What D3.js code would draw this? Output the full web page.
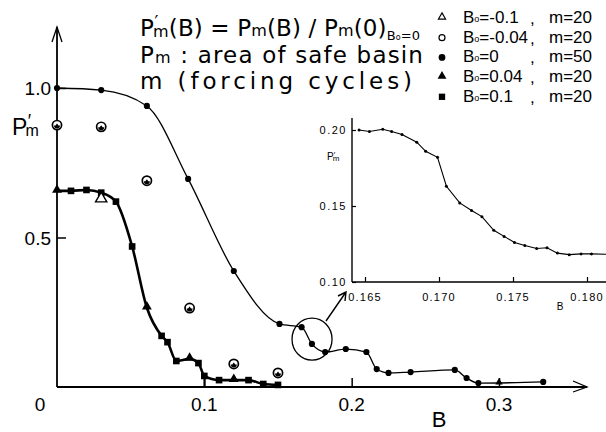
<!DOCTYPE html>
<html><head><meta charset="utf-8">
<script src="https://cdn.jsdelivr.net/npm/d3@7"></script>
<style>html,body{margin:0;padding:0;background:#fff;}svg{display:block;}</style>
</head><body>
<svg id="c" width="606" height="432"></svg>
<script>
// ---------------- data ----------------
// B0 = 0, m = 50 (filled circles, thin line)
const s50B = [0, 0.030, 0.061, 0.089, 0.120, 0.151, 0.166, 0.173, 0.182, 0.196, 0.210, 0.217, 0.225, 0.240, 0.270, 0.278, 0.286, 0.330];
const s50P = [1.0, 0.993, 0.94, 0.696, 0.388, 0.211, 0.200, 0.144, 0.117, 0.127, 0.117, 0.060, 0.047, 0.050, 0.057, 0.030, 0.013, 0.017];
// B0 = 0.1, m = 20 (filled squares, bold line)
const sqB = [0.0095, 0.020, 0.030, 0.040, 0.051, 0.071, 0.075, 0.081, 0.096, 0.100, 0.110, 0.130, 0.140, 0.150];
const sqP = [0.656, 0.659, 0.650, 0.620, 0.470, 0.171, 0.150, 0.087, 0.080, 0.037, 0.023, 0.023, 0.010, 0.007];
// B0 = 0.04, m = 20 (filled triangles)
const triB = [0, 0.061, 0.090, 0.120, 0.300];
const triP = [0.656, 0.265, 0.094, 0.023, 0.012];
// B0 = -0.04, m = 20 (open circles)
const circB = [0, 0.030, 0.061, 0.090, 0.120, 0.150];
const circP = [0.876, 0.870, 0.690, 0.264, 0.077, 0.047];
// B0 = -0.1, m = 20 (open triangles)
const otriB = [0.030];
const otriP = [0.630];
// inset (zoom of B0 = 0 curve)
const insB = [0.1646, 0.1653, 0.1662, 0.1668, 0.1675, 0.1685, 0.1691, 0.1699, 0.1705, 0.1714, 0.1722, 0.1729, 0.1737, 0.1744, 0.1751, 0.1758, 0.1766, 0.1773, 0.1780, 0.1788, 0.1796, 0.1803];
const insP = [0.200, 0.199, 0.2005, 0.199, 0.197, 0.192, 0.186, 0.182, 0.163, 0.152, 0.147, 0.143, 0.134, 0.130, 0.126, 0.124, 0.122, 0.1225, 0.119, 0.118, 0.1185, 0.1185];
// ticks
const xTicks = [0.1, 0.2, 0.3];
const yTicks = [0.5, 1.0];
const insXTicks = [0.165, 0.170, 0.175, 0.180];
const insYTicks = [0.10, 0.15, 0.20];
// legend
const legB = ["-0.1", "-0.04", "0", "0.04", "0.1"];
const legM = [20, 20, 50, 20, 20];
const legSym = ["otri", "ocirc", "dot", "tri", "sq"];

// ---------------- drawing ----------------
const svg = d3.select("#c");
const FONT = "Liberation Sans, Arial, sans-serif";
const TFONT = "DejaVu Sans, sans-serif";
const x = d3.scaleLinear().domain([0, 0.3]).range([57, 499]);
const y = d3.scaleLinear().domain([0, 1]).range([387, 88]);
const zip = (a, b) => a.map((v, i) => [v, b[i]]);

// axes lines with arrows
const ax = svg.append("g").attr("stroke", "#000").attr("fill", "none");
ax.append("line").attr("x1", x(0)).attr("y1", y(0)).attr("x2", 587).attr("y2", y(0)).attr("stroke-width", 1.8);
ax.append("path").attr("d", `M573,${y(0)-6}L587,${y(0)}L573,${y(0)+5}`).attr("stroke-width", 1.3);
ax.append("line").attr("x1", x(0)).attr("y1", y(0)).attr("x2", x(0)).attr("y2", 27).attr("stroke-width", 1.8);
ax.append("path").attr("d", `M${x(0)-5},42L${x(0)},27L${x(0)+5},42`).attr("stroke-width", 1.3);

// ticks via d3 axes (inward)
const xAxis = d3.axisTop(x).tickValues(xTicks).tickSize(9).tickFormat("");
svg.append("g").attr("transform", `translate(0,${y(0)})`).call(xAxis)
  .call(g => { g.select(".domain").remove(); g.selectAll("line").attr("stroke-width", 1.5); });
const yAxis = d3.axisRight(y).tickValues(yTicks).tickSize(9).tickFormat("");
svg.append("g").attr("transform", `translate(${x(0)},0)`).call(yAxis)
  .call(g => { g.select(".domain").remove(); g.selectAll("line").attr("stroke-width", 1.5); });

// tick labels
svg.append("g").selectAll("text").data(xTicks).join("text")
  .attr("x", d => x(d)).attr("y", 411).attr("text-anchor", "middle")
  .attr("font-family", FONT).attr("font-size", 19).text(d => d3.format(".1f")(d));
svg.append("text").attr("x", 40).attr("y", 411).attr("text-anchor", "middle")
  .attr("font-family", FONT).attr("font-size", 19).text("0");
svg.append("g").selectAll("text").data(yTicks).join("text")
  .attr("x", 51).attr("y", d => y(d) + 7).attr("text-anchor", "end")
  .attr("font-family", FONT).attr("font-size", 19).text(d => d3.format(".1f")(d));

// axis titles
svg.append("text").attr("x", 439).attr("y", 427).attr("text-anchor", "middle")
  .attr("font-family", FONT).attr("font-size", 22).text("B");
function pmLabel(g, px, py, big, small, prime, fam) {
  const t = g.append("text").attr("x", px).attr("y", py).attr("font-family", fam || FONT).attr("font-size", big);
  t.append("tspan").text("P");
  t.append("tspan").attr("font-size", prime).attr("dy", -big * 0.33).attr("dx", big * 0.02).text("′");
  t.append("tspan").attr("font-size", small).attr("dy", big * 0.38).attr("dx", -prime * 0.32).text("m");
  return t;
}
pmLabel(svg, 12, 135, 23, 16, 18);

// main curves
const thin = d3.line().x(d => x(d[0])).y(d => y(d[1])).curve(d3.curveMonotoneX);
svg.append("path").datum(zip(s50B, s50P)).attr("d", thin)
  .attr("fill", "none").attr("stroke", "#000").attr("stroke-width", 1.3);

const boldPts = zip(sqB, sqP).concat(zip(triB, triP).filter(d => d[0] <= 0.15)).sort((a, b) => a[0] - b[0]);
svg.append("path").datum(boldPts).attr("d", thin)
  .attr("fill", "none").attr("stroke", "#000").attr("stroke-width", 2.6);
// drop line at B = 0.1
svg.append("line").attr("x1", x(0.1)).attr("x2", x(0.1)).attr("y1", y(sqP[sqB.indexOf(0.100)])).attr("y2", y(0))
  .attr("stroke", "#000").attr("stroke-width", 1.8);

// markers
const sym = (type, size) => d3.symbol().type(type).size(size)();
svg.append("g").selectAll("path").data(zip(s50B, s50P)).join("path")
  .attr("transform", d => `translate(${x(d[0])},${y(d[1])})`).attr("d", sym(d3.symbolCircle, 30)).attr("fill", "#000");
svg.append("g").selectAll("path").data(zip(sqB, sqP)).join("path")
  .attr("transform", d => `translate(${x(d[0])},${y(d[1])})`).attr("d", sym(d3.symbolSquare, 44)).attr("fill", "#000");
svg.append("g").selectAll("path").data(zip(triB, triP)).join("path")
  .attr("transform", d => `translate(${x(d[0])},${y(d[1]) - 1})`).attr("d", (d, i) => sym(d3.symbolTriangle, d[0] > 0.2 ? 24 : 42)).attr("fill", "#000");
svg.append("g").selectAll("path").data(zip(otriB, otriP)).join("path")
  .attr("transform", d => `translate(${x(d[0])},${y(d[1])})`).attr("d", sym(d3.symbolTriangle, 55))
  .attr("fill", "#fff").attr("stroke", "#000").attr("stroke-width", 1.4);
const cg = svg.append("g").selectAll("g").data(zip(circB, circP)).join("g")
  .attr("transform", d => `translate(${x(d[0])},${y(d[1])})`);
cg.append("circle").attr("r", 4.6).attr("fill", "#fff").attr("stroke", "#000").attr("stroke-width", 1.7);
cg.append("path").attr("d", "M-3,0.5A3,3 0 0 0 3,0.5L1.5,0.5L0,-1.5L-1.5,0.5Z").attr("fill", "#000");

// magnifier circle and arrow
const mc = [0.1731, 0.160];
svg.append("ellipse").attr("cx", x(mc[0])).attr("cy", y(mc[1])).attr("rx", 20).attr("ry", 21)
  .attr("fill", "none").attr("stroke", "#000").attr("stroke-width", 1.3);
svg.append("path").attr("d", "M326,321L346,292M338,296L346,292L345,301")
  .attr("fill", "none").attr("stroke", "#000").attr("stroke-width", 1.4);

// ---------------- title ----------------
const TS = 23, TSM = 16;
const tg = svg.append("g").attr("font-family", TFONT);
const l1 = pmLabel(tg, 140, 36, TS, TSM, 17, TFONT);
l1.append("tspan").attr("dy", -TS * 0.05).text("(B) = P");
l1.append("tspan").attr("font-size", TSM).text("m");
l1.append("tspan").text("(B) / P");
l1.append("tspan").attr("font-size", TSM).text("m");
l1.append("tspan").text("(0)");
l1.append("tspan").attr("font-size", 13).attr("dy", 4).text("B");
l1.append("tspan").attr("font-size", 8).text("o");
l1.append("tspan").attr("font-size", 13).text("=0");
const l2 = tg.append("text").attr("x", 140).attr("y", 63).attr("font-size", TS);
l2.append("tspan").text("P");
l2.append("tspan").attr("font-size", TSM).text("m");
l2.append("tspan").text(" : area of safe basin");
const l3 = tg.append("text").attr("x", 140).attr("y", 89).attr("font-size", TS).text("m (forcing cycles)");

// ---------------- legend ----------------
const lg = svg.append("g").attr("font-family", FONT).attr("font-size", 17);
legB.forEach((b, i) => {
  const cy = 17 + i * 19.7;
  const mx = 442;
  const k = legSym[i];
  if (k === "otri") lg.append("path").attr("transform", `translate(${mx},${cy})`).attr("d", sym(d3.symbolTriangle, 22)).attr("fill", "#fff").attr("stroke", "#000").attr("stroke-width", 1.2);
  if (k === "ocirc") lg.append("circle").attr("cx", mx).attr("cy", cy + 1).attr("r", 3).attr("fill", "#fff").attr("stroke", "#000").attr("stroke-width", 1.2);
  if (k === "dot") lg.append("circle").attr("cx", mx).attr("cy", cy + 1).attr("r", 3.4).attr("fill", "#000");
  if (k === "tri") lg.append("path").attr("transform", `translate(${mx},${cy})`).attr("d", sym(d3.symbolTriangle, 34)).attr("fill", "#000");
  if (k === "sq") lg.append("path").attr("transform", `translate(${mx},${cy + 1})`).attr("d", sym(d3.symbolSquare, 40)).attr("fill", "#000");
  const t = lg.append("text").attr("x", 463).attr("y", cy + 6);
  t.append("tspan").text("B");
  t.append("tspan").attr("font-size", 9).attr("dy", -1).text("o");
  t.append("tspan").attr("dy", 1).text("=" + b);
  lg.append("text").attr("x", 530).attr("y", cy + 7).text(",");
  lg.append("text").attr("x", 549).attr("y", cy + 6).text("m=" + legM[i]);
});

// ---------------- inset ----------------
const ix = d3.scaleLinear().domain([0.165, 0.180]).range([365, 587]);
const iy = d3.scaleLinear().domain([0.10, 0.20]).range([282, 130]);
const ig = svg.append("g");
ig.append("line").attr("x1", 352).attr("x2", 606).attr("y1", iy(0.10)).attr("y2", iy(0.10)).attr("stroke", "#000").attr("stroke-width", 1.3);
ig.append("line").attr("x1", 352).attr("x2", 352).attr("y1", 118).attr("y2", iy(0.10)).attr("stroke", "#000").attr("stroke-width", 1.4);
ig.append("g").attr("transform", `translate(0,${iy(0.10)})`).call(d3.axisTop(ix).tickValues(insXTicks).tickSize(5).tickFormat(""))
  .call(g => { g.select(".domain").remove(); g.selectAll("line").attr("stroke-width", 1.2); });
ig.append("g").attr("transform", `translate(352,0)`).call(d3.axisRight(iy).tickValues(insYTicks).tickSize(4).tickFormat(""))
  .call(g => { g.select(".domain").remove(); g.selectAll("line").attr("stroke-width", 1.2); });
ig.append("g").selectAll("text").data(insXTicks).join("text")
  .attr("x", d => ix(d)).attr("y", 301).attr("text-anchor", "middle").attr("font-family", FONT)
  .attr("font-size", 11).attr("letter-spacing", 1.2).text(d => d3.format(".3f")(d));
ig.append("g").selectAll("text").data(insYTicks).join("text")
  .attr("x", 347).attr("y", d => iy(d) + 4).attr("text-anchor", "end").attr("font-family", FONT)
  .attr("font-size", 11).attr("letter-spacing", 1.5).text(d => d3.format(".2f")(d));
ig.append("text").attr("x", 560).attr("y", 310).attr("text-anchor", "middle").attr("font-family", FONT)
  .attr("font-size", 10).text("B");
pmLabel(ig, 327, 160, 10, 8, 8);
const ipts = zip(insB, insP);
ig.append("path").datum(ipts).attr("d", d3.line().x(d => ix(d[0])).y(d => iy(d[1])))
  .attr("fill", "none").attr("stroke", "#000").attr("stroke-width", 1.1);
ig.append("path").datum([ipts[ipts.length - 1], [0.1813, 0.1183]]).attr("d", d3.line().x(d => ix(d[0])).y(d => iy(d[1])))
  .attr("fill", "none").attr("stroke", "#000").attr("stroke-width", 1.1);
ig.append("g").selectAll("circle").data(ipts).join("circle")
  .attr("cx", d => ix(d[0])).attr("cy", d => iy(d[1])).attr("r", 1.5).attr("fill", "#000");

// fit title lines to the reference widths with letter spacing
[[l1, 280], [l2, 283], [l3, 272]].forEach(([t, w]) => {
  const bb = t.node().getBBox();
  const n = t.node().getNumberOfChars();
  const ls = Math.max(-1, (w - bb.width) / Math.max(1, n - 1));
  t.attr("letter-spacing", ls.toFixed(2));
});
</script>
</body></html>
